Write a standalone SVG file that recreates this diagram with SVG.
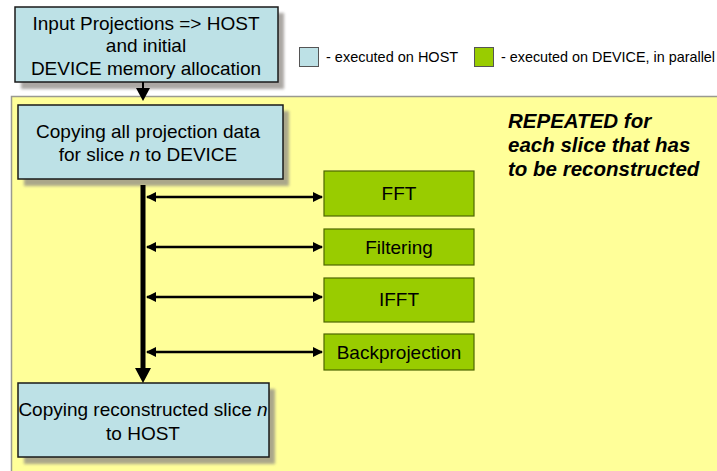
<svg xmlns="http://www.w3.org/2000/svg" width="717" height="471" viewBox="0 0 717 471">
  <defs>
    <style>
      text { font-family: "Liberation Sans", Arial, sans-serif; fill: #000; }
      .lbl { font-size: 19px; text-anchor: middle; }
      .leg { font-size: 14.5px; }
      .note { font-size: 20.5px; font-weight: bold; font-style: italic; }
      .host { fill: #BDE1E6; stroke: #1a1a1a; stroke-width: 1.5; }
      .dev { fill: #99CC00; stroke: #4d6600; stroke-width: 1.2; }
      .shadow { fill: #8f8a85; opacity: 0.75; }
      .link { stroke: #000; stroke-width: 2.5; fill: none; }
    </style>
    <filter id="soft" x="-10%" y="-10%" width="130%" height="130%">
      <feGaussianBlur stdDeviation="1.5"/>
    </filter>
    <marker id="tri" viewBox="0 0 10 10" refX="9" refY="5" markerWidth="4" markerHeight="4" orient="auto-start-reverse">
      <path d="M0,0 L10,5 L0,10 z" fill="#000"/>
    </marker>
  </defs>

  <rect x="0" y="0" width="717" height="471" fill="#ffffff"/>

  <!-- repeated-per-slice region -->
  <rect x="11.5" y="96.5" width="720" height="390" fill="#FFFF99" stroke="#9a9a90" stroke-width="1.5"/>

  <g id="node-input">
    <rect class="shadow" x="21" y="13" width="263" height="76" filter="url(#soft)"/>
    <rect class="host" x="15" y="7" width="263" height="75"/>
    <text class="lbl" x="146" y="30">Input Projections =&gt; HOST</text>
    <text class="lbl" x="146" y="52">and initial</text>
    <text class="lbl" x="146" y="75">DEVICE memory allocation</text>
  </g>

  <g id="legend">
    <rect x="299.5" y="47.5" width="19" height="19" fill="#BDE1E6" stroke="#555" stroke-width="1"/>
    <text class="leg" x="326" y="62">- executed on HOST</text>
    <rect x="474.5" y="47.5" width="19" height="19" fill="#99CC00" stroke="#555" stroke-width="1"/>
    <text class="leg" x="501" y="62" textLength="214" lengthAdjust="spacingAndGlyphs">- executed on DEVICE, in parallel</text>
  </g>

  <g id="note-repeated">
    <text class="note" x="508" y="128">REPEATED for</text>
    <text class="note" x="508" y="152">each slice that has</text>
    <text class="note" x="508" y="176">to be reconstructed</text>
  </g>

  <g id="node-copy-in">
    <rect class="shadow" x="24" y="111" width="265" height="75" filter="url(#soft)"/>
    <rect class="host" x="18" y="105" width="265" height="74"/>
    <text class="lbl" x="148" y="138">Copying all projection data</text>
    <text class="lbl" x="148" y="161">for slice <tspan font-style="italic">n</tspan> to DEVICE</text>
  </g>

  <g id="node-fft">
    <rect class="dev" x="324" y="171" width="150" height="45"/>
    <text class="lbl" x="399" y="200">FFT</text>
  </g>
  <g id="node-filtering">
    <rect class="dev" x="324" y="229" width="150" height="36"/>
    <text class="lbl" x="399" y="254">Filtering</text>
  </g>
  <g id="node-ifft">
    <rect class="dev" x="324" y="278" width="150" height="44"/>
    <text class="lbl" x="399" y="306">IFFT</text>
  </g>
  <g id="node-backprojection">
    <rect class="dev" x="324" y="334" width="150" height="36"/>
    <text class="lbl" x="399" y="359">Backprojection</text>
  </g>

  <g id="node-copy-out">
    <rect class="shadow" x="24" y="389" width="251" height="75" filter="url(#soft)"/>
    <rect class="host" x="18" y="383" width="251" height="74"/>
    <text class="lbl" x="143" y="416">Copying reconstructed slice <tspan font-style="italic">n</tspan></text>
    <text class="lbl" x="143" y="440">to HOST</text>
  </g>

  <g id="connectors">
    <!-- input to per-slice loop -->
    <line x1="143" y1="82" x2="143" y2="90" stroke="#000" stroke-width="2"/>
    <path d="M136,88 L150,88 L143,101 z" fill="#000"/>
    <!-- main device spine -->
    <line x1="143" y1="185" x2="143" y2="370" stroke="#000" stroke-width="5"/>
    <path d="M135,368 L151,368 L143,383 z" fill="#000"/>
    <!-- exchanges with device kernels -->
    <line class="link" x1="147" y1="197" x2="322" y2="197" marker-start="url(#tri)" marker-end="url(#tri)"/>
    <line class="link" x1="147" y1="247" x2="322" y2="247" marker-start="url(#tri)" marker-end="url(#tri)"/>
    <line class="link" x1="147" y1="297" x2="322" y2="297" marker-start="url(#tri)" marker-end="url(#tri)"/>
    <line class="link" x1="147" y1="352" x2="322" y2="352" marker-start="url(#tri)" marker-end="url(#tri)"/>
  </g>
</svg>
